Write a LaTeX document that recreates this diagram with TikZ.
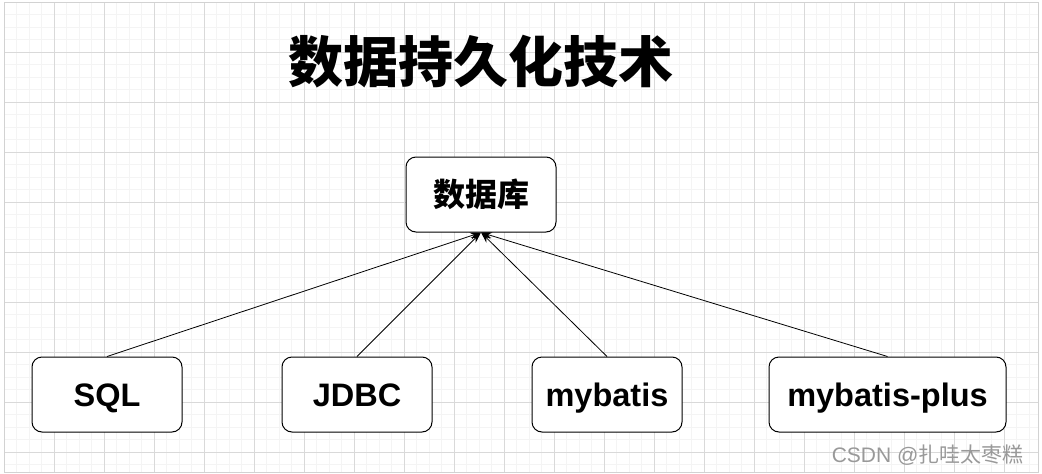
\documentclass[tikz,border=0pt]{standalone}
\usepackage{fontspec}
\setmainfont{Liberation Sans}
\newfontfamily\cjk{Noto Sans CJK SC}
\usetikzlibrary{arrows.meta}

\tikzset{
  dbbox/.style={draw, line width=1pt, rounded corners=10pt, fill=white, minimum width=150pt,
    minimum height=75pt, inner sep=0pt, text height=23pt, text depth=0pt,
    font=\fontsize{32.5}{35}\selectfont\bfseries},
  link/.style={-{Stealth[length=11pt,width=7pt]}, line width=0.8pt}
}

\begin{document}
\begin{tikzpicture}[x=1pt,y=-1pt]
    \useasboundingbox (0,0) rectangle (1042,474);
    \fill[white] (0,0) rectangle (1042,474);

    % Grid
    \begin{scope}[shift={(4,2)}]
      \draw[gray!9, line width=0.8pt, step=12.5pt] (0,0) grid (1034,470);
      \draw[gray!30, line width=0.8pt, step=50pt] (0,0) grid (1034,470);
    \end{scope}
    \draw[gray!35, line width=1pt] (4,2) rectangle (1038,472);

    % Title
    \node[font=\cjk\fontsize{55}{58}\selectfont\bfseries] (title) at (481,62) {数据持久化技术};

    % Nodes
    \node[dbbox, text height=26pt, text depth=3pt, font=\cjk\fontsize{32}{36}\selectfont\bfseries] (db) at (481,194.5) {数据库};
    \node[dbbox] (sql) at (107,394.5) {SQL};
    \node[dbbox] (jdbc) at (357,394.5) {JDBC};
    \node[dbbox] (mybatis) at (607,394.5) {mybatis};
    \node[dbbox, minimum width=237pt] (plus) at (887.5,394.5) {mybatis-plus};

    % Links
    \draw[link] (sql.north) -- (db.south);
    \draw[link] (jdbc.north) -- (db.south);
    \draw[link] (mybatis.north) -- (db.south);
    \draw[link] (plus.north) -- (db.south);

    % Watermark
    \node[anchor=east, text=gray!80, font=\fontsize{21}{23}\selectfont] (mark) at (1027,455) {CSDN @{\cjk 扎哇太枣糕}};
\end{tikzpicture}
\end{document}
